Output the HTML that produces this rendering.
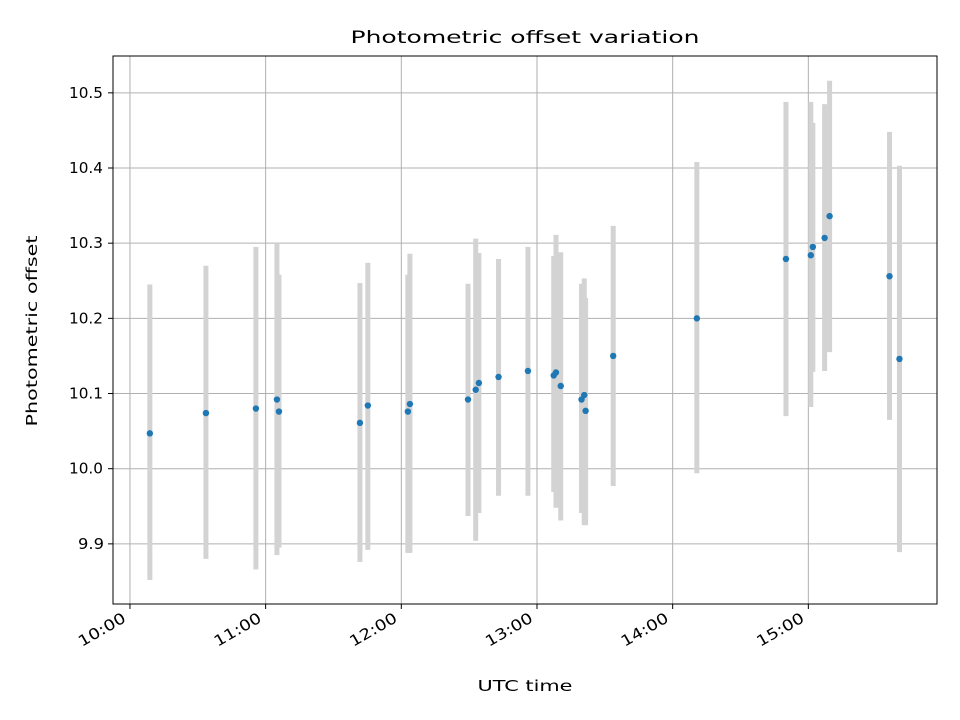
<!DOCTYPE html>
<html><head><meta charset="utf-8"><style>
body{margin:0;background:#fff}
svg{display:block;font-family:"DejaVu Sans","Liberation Sans",sans-serif}
</style></head><body>
<svg id="chart" width="960" height="720" viewBox="0 0 960 720">
<rect width="960" height="720" fill="#fff"/>
<text x="525" y="43" text-anchor="middle" font-size="17" textLength="349" lengthAdjust="spacingAndGlyphs">Photometric offset variation</text>
<g id="grid"></g>
<g id="bars"></g>
<g id="pts"></g>
<rect x="113" y="56" width="824" height="548" fill="none" stroke="#000" stroke-width="1"/>
<g id="ticks"></g>
<text x="525" y="691" text-anchor="middle" font-size="15" textLength="95" lengthAdjust="spacingAndGlyphs">UTC time</text>
<text transform="translate(37,331) rotate(-90)" text-anchor="middle" font-size="15" textLength="191" lengthAdjust="spacingAndGlyphs">Photometric offset</text>
</svg>
<script>
// minutes since 10:00 UTC
const times=[8.8,33.6,55.7,65.0,65.9,101.7,105.2,122.9,123.8,149.5,152.9,154.3,163.0,176.0,187.4,188.4,190.5,199.7,200.9,201.5,213.7,250.7,290.1,301.1,302.0,307.2,309.4,335.9,340.3];
const values=[10.047,10.074,10.080,10.092,10.076,10.061,10.084,10.076,10.086,10.092,10.105,10.114,10.122,10.130,10.124,10.128,10.110,10.092,10.098,10.077,10.150,10.200,10.279,10.284,10.295,10.307,10.336,10.256,10.146];
const upper=[10.245,10.270,10.295,10.300,10.258,10.247,10.274,10.258,10.286,10.246,10.306,10.287,10.279,10.295,10.283,10.311,10.288,10.246,10.253,10.227,10.323,10.408,10.488,10.488,10.460,10.485,10.516,10.448,10.403];
const lower=[9.852,9.880,9.866,9.885,9.895,9.876,9.892,9.888,9.888,9.937,9.904,9.941,9.964,9.964,9.969,9.948,9.931,9.941,9.925,9.925,9.977,9.994,10.070,10.082,10.129,10.130,10.155,10.065,9.889];
const xTickMins=[0,60,120,180,240,300];
const xTickLabels=["10:00","11:00","12:00","13:00","14:00","15:00"];
const yTicks=[9.9,10.0,10.1,10.2,10.3,10.4,10.5];
const yTickLabels=["9.9","10.0","10.1","10.2","10.3","10.4","10.5"];

const X0=113,X1=937,Y0=604,Y1=56;
const xmin=-7.5,xmax=356.9,ymin=9.820,ymax=10.549;
const sx=m=>X0+(m-xmin)/(xmax-xmin)*(X1-X0);
const sy=v=>Y0-(v-ymin)/(ymax-ymin)*(Y0-Y1);
const NS="http://www.w3.org/2000/svg";
function mk(parent,tag,attrs){const e=document.createElementNS(NS,tag);for(const k in attrs)e.setAttribute(k,attrs[k]);document.getElementById(parent).appendChild(e);return e;}

xTickMins.forEach((m,i)=>{
  const x=sx(m);
  const g=mk('grid','line',{x1:x,x2:x,y1:Y1,y2:Y0,stroke:'#b0b0b0','stroke-width':1});
  
  
  const t=mk('ticks','line',{x1:x,x2:x,y1:Y0,y2:Y0+5,stroke:'#000','stroke-width':1});
  
  
  const l=mk('ticks','text',{x:x-3,y:Y0+17,'text-anchor':'end','font-size':15,textLength:52,lengthAdjust:'spacingAndGlyphs',transform:`rotate(-30 ${x-3} ${Y0+17})`});
  l.textContent=xTickLabels[i];
  
  
});
yTicks.forEach((v,i)=>{
  const y=sy(v);
  const g=mk('grid','line',{x1:X0,x2:X1,y1:y,y2:y,stroke:'#b0b0b0','stroke-width':1});
  
  
  const t=mk('ticks','line',{x1:X0-5,x2:X0,y1:y,y2:y,stroke:'#000','stroke-width':1});
  
  
  const l=mk('ticks','text',{x:X0-27,y:y+5,'text-anchor':'middle','font-size':15,textLength:(yTickLabels[i].length===3?26:34),lengthAdjust:'spacingAndGlyphs'});
  l.setAttribute('x', yTickLabels[i].length===3 ? X0-22 : X0-27);
  l.textContent=yTickLabels[i];
  
  
});
times.forEach((m,i)=>{
  const x=sx(m);
  const b=mk('bars','line',{x1:x,x2:x,y1:sy(upper[i]),y2:sy(lower[i]),stroke:'#d3d3d3','stroke-width':5});
  
  
});
times.forEach((m,i)=>{
  const p=mk('pts','circle',{cx:sx(m),cy:sy(values[i]),r:3.2,fill:'#1f77b4'});
  
  
});
</script>
</body></html>
